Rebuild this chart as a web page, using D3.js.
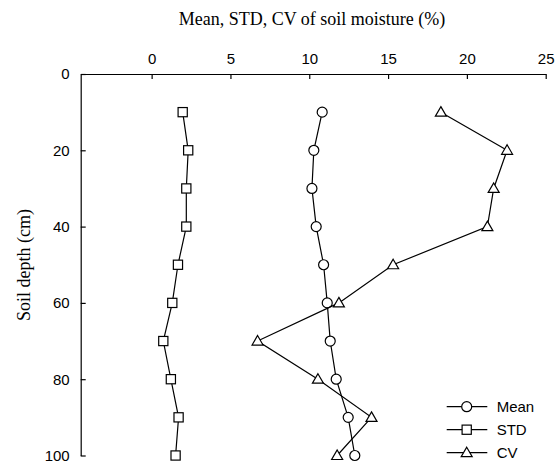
<!DOCTYPE html>
<html>
<head>
<meta charset="utf-8">
<script src="https://cdn.jsdelivr.net/npm/d3@7"></script>
<style>
  body { margin: 0; background: #fff; }
</style>
</head>
<body>
<div id="chart"></div>
<script>
// depths (cm) and the three profiles
var depths = [10, 20, 30, 40, 50, 60, 70, 80, 90, 100];
var meanVals = [10.82, 10.29, 10.17, 10.44, 10.91, 11.14, 11.33, 11.71, 12.47, 12.89];
var stdVals = [1.97, 2.32, 2.2, 2.2, 1.67, 1.31, 0.74, 1.22, 1.71, 1.52];
var cvVals = [18.35, 22.55, 21.7, 21.3, 15.32, 11.88, 6.72, 10.55, 13.95, 11.77];
var xTicks = [0, 5, 10, 15, 20, 25];
var yTicks = [0, 20, 40, 60, 80, 100];

var series = [
    {name: "Mean", values: meanVals, shape: "circle"},
    {name: "STD", values: stdVals, shape: "square"},
    {name: "CV", values: cvVals, shape: "triangle"}
];

var width = 555, height = 465;
var margin = {top: 74, right: 9.3, bottom: 10, left: 80.7};

var svg = d3.select("#chart").append("svg")
    .attr("width", width)
    .attr("height", height);

var x = d3.scaleLinear().domain([-4.5, 25]).range([margin.left, width - margin.right]);
var y = d3.scaleLinear().domain([0, 100]).range([margin.top, 455.5]);

// top axis
svg.append("g")
    .attr("transform", "translate(0," + margin.top + ")")
    .call(d3.axisTop(x).tickValues(xTicks).tickSizeInner(-5).tickSizeOuter(0).tickPadding(10));

// left axis
svg.append("g")
    .attr("transform", "translate(" + margin.left + ",0)")
    .call(d3.axisLeft(y).tickValues(yTicks).tickSizeInner(-5).tickSizeOuter(0).tickPadding(11));

svg.selectAll(".domain, .tick line").attr("stroke", "#000").attr("stroke-width", 1.2);
svg.selectAll(".tick text")
    .attr("fill", "#000")
    .style("font-family", "'Liberation Sans', Arial, sans-serif")
    .style("font-size", "15px");

// titles
svg.append("text")
    .attr("x", 312).attr("y", 25)
    .attr("text-anchor", "middle")
    .style("font-family", "'Liberation Serif', 'Times New Roman', serif")
    .style("font-size", "18px")
    .text("Mean, STD, CV of soil moisture (%)");

svg.append("text")
    .attr("transform", "translate(30,265) rotate(-90)")
    .attr("text-anchor", "middle")
    .style("font-family", "'Liberation Serif', 'Times New Roman', serif")
    .style("font-size", "18px")
    .text("Soil depth (cm)");

function drawMarker(g, shape) {
    if (shape === "circle") {
        g.append("circle").attr("r", 5);
    } else if (shape === "square") {
        g.append("rect").attr("x", -4.6).attr("y", -4.6).attr("width", 9.2).attr("height", 9.2);
    } else {
        g.append("path").attr("d", "M0,-5.5 L5.5,4 L-5.5,4 Z");
    }
    g.selectAll("*").attr("fill", "#fff").attr("stroke", "#000").attr("stroke-width", 1.2);
}

var line = d3.line()
    .x(function(d) { return x(d[1]); })
    .y(function(d) { return y(d[0]); });

series.forEach(function(s) {
    var pts = depths.map(function(dp, i) { return [dp, s.values[i]]; });
    svg.append("path")
        .datum(pts)
        .attr("d", line)
        .attr("fill", "none")
        .attr("stroke", "#000")
        .attr("stroke-width", 1.2);
    pts.forEach(function(p) {
        var g = svg.append("g").attr("transform", "translate(" + x(p[1]) + "," + y(p[0]) + ")");
        drawMarker(g, s.shape);
    });
});

// legend
var legend = svg.append("g");
series.forEach(function(s, i) {
    var ly = 406.7 + i * 23;
    legend.append("line")
        .attr("x1", 446.7).attr("x2", 487.3)
        .attr("y1", ly).attr("y2", ly)
        .attr("stroke", "#000").attr("stroke-width", 1.2);
    drawMarker(legend.append("g").attr("transform", "translate(466.7," + ly + ")"), s.shape);
    legend.append("text")
        .attr("x", 496.7).attr("y", ly + 5.5)
        .style("font-family", "'Liberation Sans', Arial, sans-serif")
        .style("font-size", "15px")
        .text(s.name);
});
</script>
</body>
</html>
